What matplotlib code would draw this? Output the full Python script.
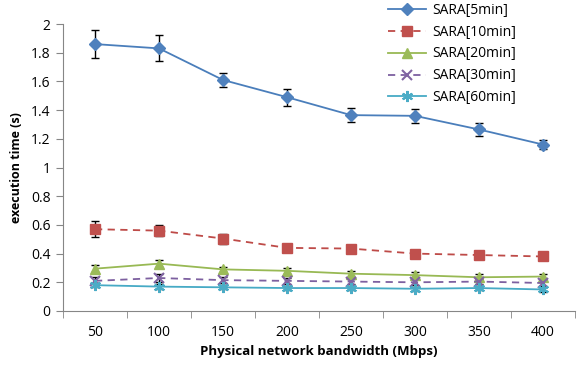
import numpy as np
import matplotlib
matplotlib.use("Agg")
import matplotlib.pyplot as plt
from matplotlib.ticker import FixedLocator

categories = ["50", "100", "150", "200", "250", "300", "350", "400"]
sara5 = [1.86, 1.83, 1.61, 1.49, 1.365, 1.36, 1.265, 1.16]
sara5_err = [0.10, 0.09, 0.05, 0.06, 0.05, 0.05, 0.045, 0.03]
sara10 = [0.57, 0.56, 0.505, 0.44, 0.435, 0.40, 0.39, 0.38]
sara10_err = [0.055, 0.04, 0.035, 0.02, 0.02, 0.02, 0.02, 0.025]
sara20 = [0.295, 0.33, 0.29, 0.28, 0.26, 0.25, 0.235, 0.24]
sara20_err = [0.025, 0.025, 0.02, 0.02, 0.02, 0.02, 0.02, 0.02]
sara30 = [0.21, 0.23, 0.215, 0.21, 0.205, 0.20, 0.205, 0.195]
sara30_err = [0.025, 0.03, 0.02, 0.02, 0.02, 0.02, 0.02, 0.02]
sara60 = [0.18, 0.17, 0.165, 0.16, 0.16, 0.155, 0.16, 0.15]
sara60_err = [0.015, 0.015, 0.015, 0.015, 0.015, 0.015, 0.015, 0.015]
labels = ["SARA[5min]", "SARA[10min]", "SARA[20min]", "SARA[30min]", "SARA[60min]"]

plt.rcParams['font.family'] = ['Open Sans', 'DejaVu Sans']

fig = plt.figure(figsize=(5.79, 3.67), dpi=100)
ax = fig.add_axes([63/579, 1-311/367, (575-63)/579, (311-24)/367])

x = np.arange(len(categories))
specs = [
    (sara5, sara5_err, '#4A7EBB', '#4F81BD', 'D', '-', 6),
    (sara10, sara10_err, '#BE4B48', '#C0504D', 's', (0, (4, 3)), 7),
    (sara20, sara20_err, '#98B954', '#9BBB59', '^', '-', 7),
    (sara30, sara30_err, '#7D60A0', '#8064A2', 'x', (0, (4, 3)), 7),
    (sara60, sara60_err, '#46AAC5', '#4BACC6', (6, 2, 0), '-', 8),
]
for (y, e, lc, mc, m, ls, ms), lab in zip(specs, labels):
    ax.errorbar(x, y, yerr=e, fmt='none', ecolor='black', elinewidth=1.0,
                capsize=3, capthick=1.0, zorder=2)
    ax.plot(x, y, color=lc, linestyle=ls, linewidth=1.3, marker=m,
            markersize=ms, markerfacecolor=mc, markeredgecolor=mc,
            markeredgewidth=1.5 if m in ('x',) or isinstance(m, tuple) else 1,
            label=lab, zorder=3)

ax.set_xlim(-0.5, len(categories) - 0.5)
ax.set_ylim(0, 2)
ax.set_yticks(np.arange(0, 2.01, 0.2))
ax.set_yticklabels(["0", "0.2", "0.4", "0.6", "0.8", "1", "1.2", "1.4", "1.6", "1.8", "2"])
ax.set_xticks(x)
ax.set_xticklabels(categories)
ax.xaxis.set_minor_locator(FixedLocator(np.arange(-0.5, len(categories), 1.0)))
ax.tick_params(axis='x', which='major', length=0, pad=10, labelsize=10)
ax.tick_params(axis='x', which='minor', length=5, color='#868686', direction='out')
ax.tick_params(axis='y', which='major', length=5, color='#868686', direction='out', labelsize=10, pad=4)

for s in ['top', 'right']:
    ax.spines[s].set_visible(False)
for s in ['left', 'bottom']:
    ax.spines[s].set_color('#868686')

ax.set_ylabel("execution time (s)", fontsize=9, fontweight='bold', labelpad=6)
ax.set_xlabel("Physical network bandwidth (Mbps)", fontsize=9.5, fontweight='bold', labelpad=4)

leg = ax.legend(loc='upper left', bbox_to_anchor=(382/579, 1.0 + 3/367), bbox_transform=fig.transFigure,
                frameon=False, fontsize=10, handlelength=2.8, labelspacing=0.5,
                borderaxespad=0, handletextpad=0.4)

fig.savefig("out.png", dpi=100)
